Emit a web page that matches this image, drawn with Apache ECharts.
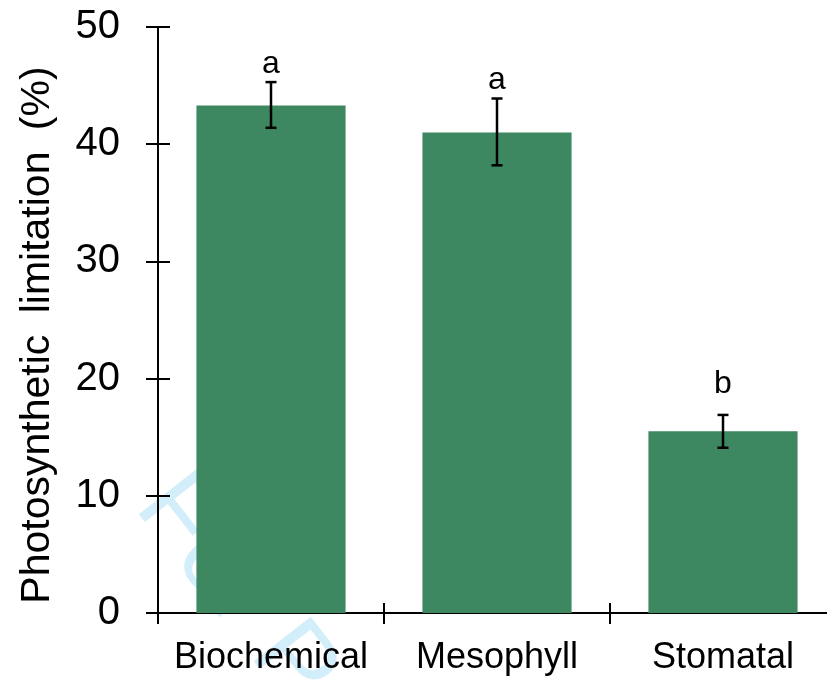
<!DOCTYPE html>
<html>
<head>
<meta charset="utf-8">
<script src="https://cdn.jsdelivr.net/npm/echarts@6/dist/echarts.min.js"></script>
<style>
html,body{margin:0;padding:0;background:#fff;}
#chart{width:827px;height:682px;}
</style>
</head>
<body>
<div id="chart"></div>
<script>
// ---- data ----
const categories = ['Biochemical', 'Mesophyll', 'Stomatal'];
const means = [43.3, 41.0, 15.5];
const errUpper = [45.3, 43.9, 16.9];
const errLower = [41.4, 38.2, 14.1];
const letters = ['a', 'a', 'b'];
const letterPos = [45.5, 44.1, 18.2];
const yTicks = [0, 10, 20, 30, 40, 50];
const yTitle = 'Photosynthetic {sp| }limitation {sp| }(%)';

const FONT = 'Arial, "Liberation Sans", sans-serif';
const chart = echarts.init(document.getElementById('chart'), null, {renderer: 'canvas'});

const errData = categories.map((c, i) => [i, errUpper[i], errLower[i]]);
const letterData = categories.map((c, i) => [i, letterPos[i], letters[i]]);

const option = {
  animation: false,
  backgroundColor: '#ffffff',
  grid: {left: 158, width: 678, top: 27, bottom: 69, containLabel: false, outerBoundsMode: 'none'},
  graphic: [{
    type: 'text', x: 115, y: 522, rotation: -52 * Math.PI / 180, z: -1,
    style: {text: 'For Peer Review', fontSize: 105, fontFamily: FONT, fill: '#d3eefb', align: 'left', verticalAlign: 'bottom'}
  }],
  xAxis: [{
    type: 'category', data: categories, position: 'bottom',
    axisLine: {lineStyle: {color: '#000', width: 2}},
    axisTick: {show: true, length: 11, alignWithLabel: false, lineStyle: {color: '#000', width: 2}},
    axisLabel: {fontSize: 36, color: '#000', fontFamily: FONT, margin: 27, interval: 0}
  }, {
    type: 'category', data: categories, position: 'bottom',
    axisLine: {show: false},
    axisTick: {show: true, inside: true, length: 10, lineStyle: {color: '#000', width: 2}},
    axisLabel: {show: false}
  }],
  yAxis: [{
    type: 'value', min: yTicks[0], max: yTicks[yTicks.length - 1], interval: 10,
    splitLine: {show: false},
    axisLine: {show: true, lineStyle: {color: '#000', width: 2}},
    axisTick: {show: true, length: 12, lineStyle: {color: '#000', width: 2}},
    axisLabel: {fontSize: 40, color: '#000', fontFamily: FONT, margin: 38},
    name: yTitle, nameLocation: 'middle', nameGap: 100, nameRotate: 90,
    nameTextStyle: {fontSize: 41, color: '#000', fontFamily: FONT, padding: [0, 30, 0, 0],
      rich: {sp: {width: 10, fontSize: 41, fontFamily: FONT}}}
  }, {
    type: 'value', min: yTicks[0], max: yTicks[yTicks.length - 1], interval: 10, position: 'left',
    splitLine: {show: false},
    axisLine: {show: false},
    axisTick: {show: true, inside: true, length: 12, lineStyle: {color: '#000', width: 2}},
    axisLabel: {show: false}
  }],
  series: [{
    type: 'bar', data: means, barCategoryGap: '34%',
    itemStyle: {color: '#3d8761'}, z: 2
  }, {
    type: 'custom', data: errData, z: 5,
    renderItem: function (params, api) {
      const i = api.value(0);
      const top = api.coord([i, api.value(1)]);
      const bot = api.coord([i, api.value(2)]);
      const x = top[0], hw = 5.5;
      const st = {stroke: '#000', lineWidth: 2.5};
      return {type: 'group', children: [
        {type: 'line', shape: {x1: x, y1: top[1], x2: x, y2: bot[1]}, style: st},
        {type: 'line', shape: {x1: x - hw, y1: top[1], x2: x + hw, y2: top[1]}, style: st},
        {type: 'line', shape: {x1: x - hw, y1: bot[1], x2: x + hw, y2: bot[1]}, style: st}
      ]};
    }
  }, {
    type: 'custom', data: letterData, z: 5,
    renderItem: function (params, api) {
      const p = api.coord([api.value(0), api.value(1)]);
      return {type: 'text', x: p[0], y: p[1],
        style: {text: letters[params.dataIndex], fontSize: 32, fontFamily: FONT, fill: '#000', align: 'center', verticalAlign: 'bottom'}};
    }
  }]
};
chart.setOption(option);
</script>
</body>
</html>
